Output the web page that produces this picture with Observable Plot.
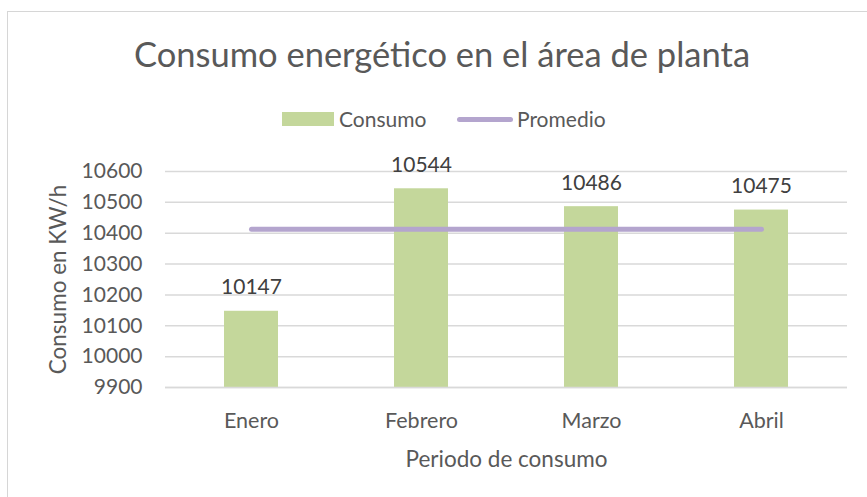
<!DOCTYPE html>
<html>
<head>
<meta charset="utf-8">
<script src="https://cdn.jsdelivr.net/npm/d3@7"></script>
<script src="https://cdn.jsdelivr.net/npm/@observablehq/plot@0.6"></script>
<style>
  html, body { margin: 0; padding: 0; background: #fff; }
  #wrap { position: relative; width: 867px; height: 497px; overflow: hidden; font-family: Lato, "Open Sans", sans-serif; color: #595959; }
  #border { position: absolute; left: 7px; top: 11px; width: 900px; height: 520px; border-top: 1.5px solid #D6D6D6; border-left: 1.5px solid #D6D6D6; box-sizing: border-box; }
  #title { position: absolute; left: 0; width: 884px; top: 34px; text-align: center; font-size: 34.5px; line-height: 40px; }
  .leg { position: absolute; font-size: 21px; line-height: 24px; }
  #chart { position: absolute; left: 0; top: 140px; }
</style>
</head>
<body>
<div id="wrap">
  <div id="border"></div>
  <div id="title">Consumo energético en el área de planta</div>
  <div style="position:absolute;left:282px;top:112px;width:52px;height:14px;background:#C4D79B"></div>
  <div class="leg" style="left:339px;top:107px">Consumo</div>
  <div style="position:absolute;left:457px;top:117px;width:56px;height:5px;border-radius:3px;background:#B4A5CE"></div>
  <div class="leg" style="left:517px;top:107px">Promedio</div>
  <div id="chart"></div>
</div>
<script>
const meses = ["Enero", "Febrero", "Marzo", "Abril"];
const consumo = [10147, 10544, 10486, 10475];
const promedio = 10413;
const yTicks = [9900, 10000, 10100, 10200, 10300, 10400, 10500, 10600];
const xTitle = "Periodo de consumo";
const yTitle = "Consumo en KW/h";

const barras = meses.map((m, i) => ({mes: m, valor: consumo[i]}));
const lineaProm = meses.map(m => ({mes: m, valor: promedio}));

const chart = Plot.plot({
  width: 867,
  height: 357,
  marginTop: 31,
  marginBottom: 110,
  marginLeft: 165,
  marginRight: 20,
  style: {fontFamily: "Lato, 'Open Sans', sans-serif", color: "#595959", background: "transparent", overflow: "visible"},
  x: {domain: meses, paddingInner: 0.683, paddingOuter: 0.3415, label: null},
  y: {domain: [9900, 10600], label: null},
  marks: [
    Plot.ruleY(yTicks, {stroke: "#D9D9D9", strokeWidth: 1.5}),
    Plot.barY(barras, {x: "mes", y1: 9900, y2: "valor", fill: "#C4D79B"}),
    Plot.ruleY([9900], {stroke: "#D9D9D9", strokeWidth: 1.5}),
    Plot.line(lineaProm, {x: "mes", y: "valor", stroke: "#B4A5CE", strokeWidth: 5, strokeLinecap: "round"}),
    Plot.text(barras, {x: "mes", y: "valor", text: d => String(d.valor), lineAnchor: "bottom", dy: -17, fontSize: 21, fill: "#404040"}),
    Plot.axisY({ticks: yTicks, tickSize: 0, tickPadding: 23, fontSize: 21, label: null, tickFormat: d => String(d)}),
    Plot.axisX({tickSize: 0, tickPadding: 25, fontSize: 21.5, label: null}),
    Plot.text([xTitle], {frameAnchor: "bottom", dy: 72, lineAnchor: "middle", fontSize: 22.5, text: d => d}),
    Plot.text([yTitle], {frameAnchor: "left", dx: -107, rotate: -90, textAnchor: "middle", fontSize: 22.5, text: d => d})
  ]
});
document.getElementById("chart").appendChild(chart);
</script>
</body>
</html>
